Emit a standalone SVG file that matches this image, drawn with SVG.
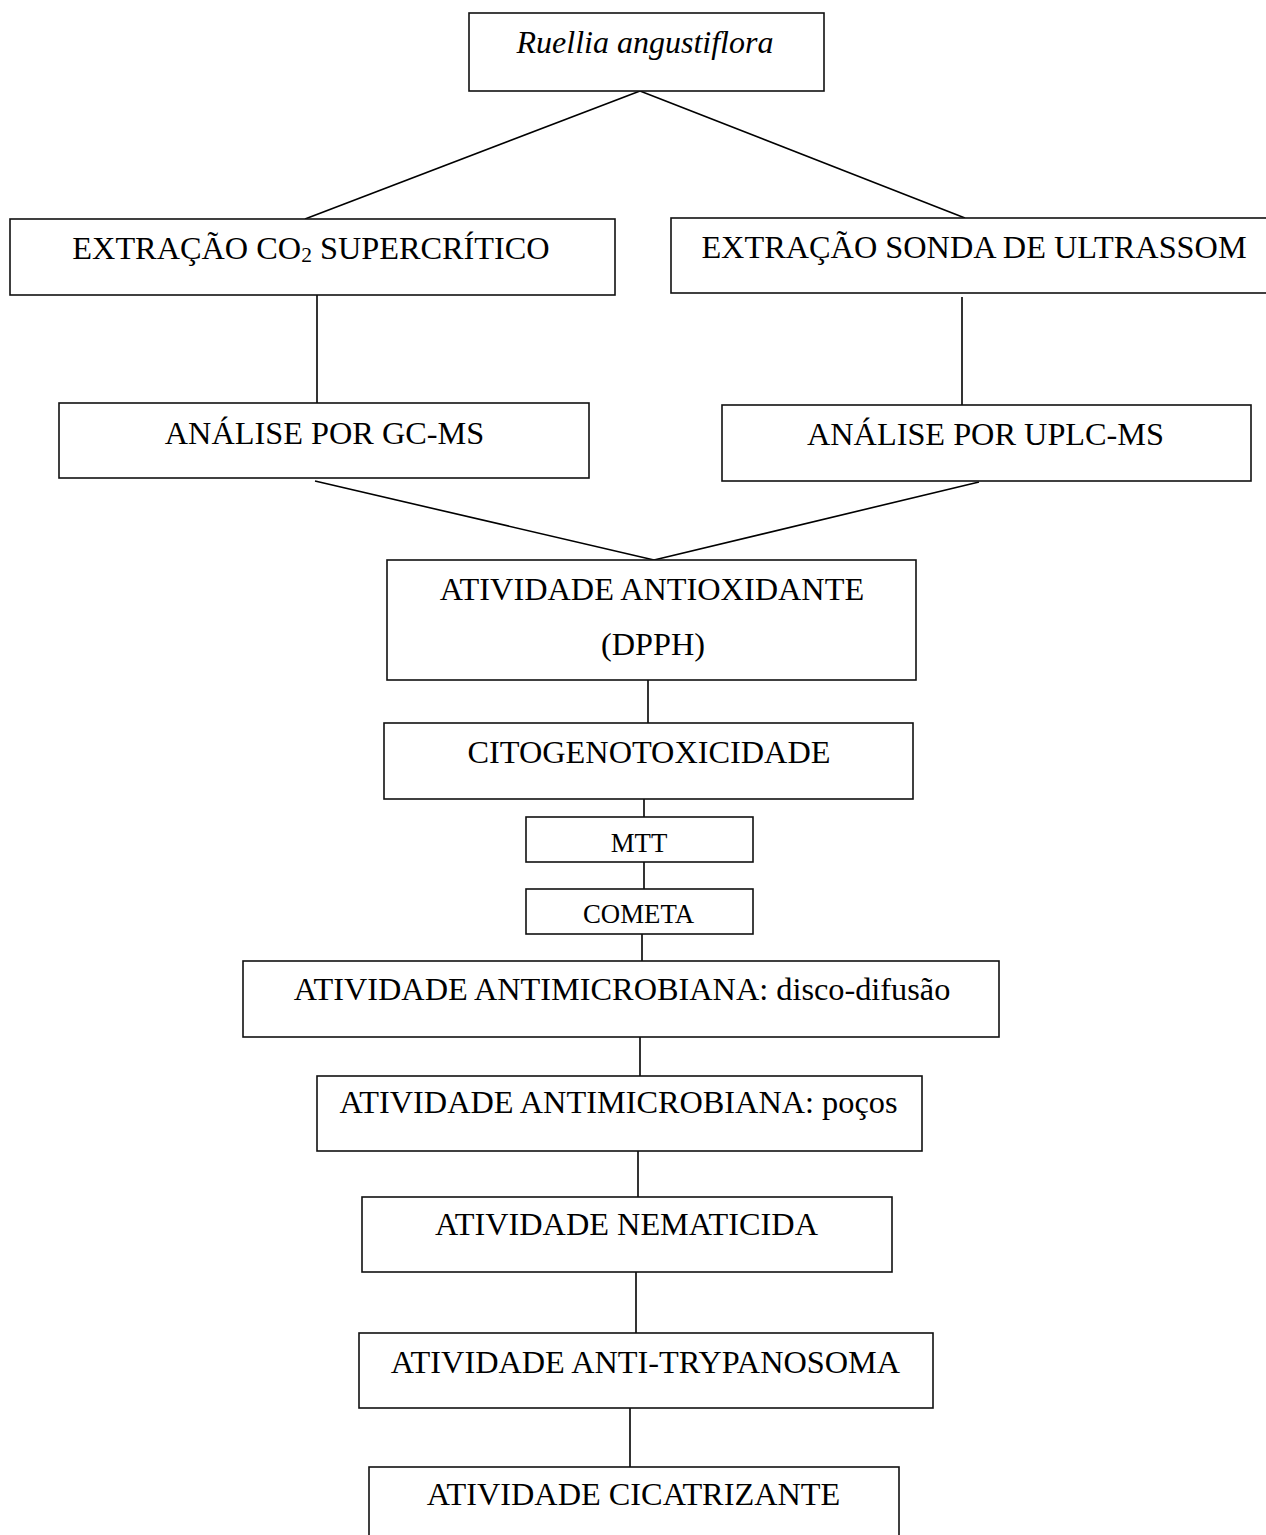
<svg xmlns="http://www.w3.org/2000/svg" width="1266" height="1535" viewBox="0 0 1266 1535">
<style>
.box{fill:#fff;stroke:#111;stroke-width:1.6}
.ln{stroke:#000;stroke-width:1.6;fill:none}
.t{font-family:"Liberation Serif","Times New Roman",serif;font-size:32.3px;fill:#000;text-anchor:middle}
.s{font-size:26.8px}
.i{font-style:italic;font-size:32px}
</style>
<rect width="1266" height="1535" fill="#fff"/>
<g id="connectors">
<line class="ln" x1="640" y1="91" x2="305" y2="219"/>
<line class="ln" x1="640" y1="91" x2="965" y2="218"/>
<line class="ln" x1="317" y1="295" x2="317" y2="403"/>
<line class="ln" x1="962" y1="297" x2="962" y2="405"/>
<line class="ln" x1="315" y1="481" x2="654" y2="560"/>
<line class="ln" x1="979" y1="482" x2="654" y2="560"/>
<line class="ln" x1="648" y1="680" x2="648" y2="723"/>
<line class="ln" x1="644" y1="799" x2="644" y2="817"/>
<line class="ln" x1="644" y1="862" x2="644" y2="889"/>
<line class="ln" x1="642" y1="934" x2="642" y2="961"/>
<line class="ln" x1="640" y1="1037" x2="640" y2="1076"/>
<line class="ln" x1="638" y1="1151" x2="638" y2="1197"/>
<line class="ln" x1="636" y1="1272" x2="636" y2="1333"/>
<line class="ln" x1="630" y1="1408" x2="630" y2="1467"/>
</g>
<g id="ruellia">
<rect class="box" x="469" y="13" width="355" height="78"/>
<text class="t i" x="645" y="53">Ruellia angustiflora</text>
</g>
<g id="extracao-co2">
<rect class="box" x="10" y="219" width="605" height="76"/>
<text class="t" x="311" y="259">EXTRAÇÃO CO<tspan font-size="21.5" dy="3">2</tspan><tspan dy="-3"> SUPERCRÍTICO</tspan></text>
</g>
<g id="extracao-sonda">
<rect class="box" x="671" y="218" width="605" height="75"/>
<text class="t" x="974" y="258">EXTRAÇÃO SONDA DE ULTRASSOM</text>
</g>
<g id="gcms">
<rect class="box" x="59" y="403" width="530" height="75"/>
<text class="t" x="324.5" y="444">ANÁLISE POR GC-MS</text>
</g>
<g id="uplcms">
<rect class="box" x="722" y="405" width="529" height="76"/>
<text class="t" x="985.5" y="445">ANÁLISE POR UPLC-MS</text>
</g>
<g id="antioxidante">
<rect class="box" x="387" y="560" width="529" height="120"/>
<text class="t" x="652" y="600">ATIVIDADE ANTIOXIDANTE</text>
<text class="t" x="653" y="655">(DPPH)</text>
</g>
<g id="citogenotoxicidade">
<rect class="box" x="384" y="723" width="529" height="76"/>
<text class="t" x="649" y="763">CITOGENOTOXICIDADE</text>
</g>
<g id="mtt">
<rect class="box" x="526" y="817" width="227" height="45"/>
<text class="t s" x="639" y="852">MTT</text>
</g>
<g id="cometa">
<rect class="box" x="526" y="889" width="227" height="45"/>
<text class="t s" x="638.5" y="923">COMETA</text>
</g>
<g id="antimicrobiana-disco">
<rect class="box" x="243" y="961" width="756" height="76"/>
<text class="t" x="622" y="1000">ATIVIDADE ANTIMICROBIANA: disco-difusão</text>
</g>
<g id="antimicrobiana-pocos">
<rect class="box" x="317" y="1076" width="605" height="75"/>
<text class="t" x="618.5" y="1113">ATIVIDADE ANTIMICROBIANA: poços</text>
</g>
<g id="nematicida">
<rect class="box" x="362" y="1197" width="530" height="75"/>
<text class="t" x="626.5" y="1235">ATIVIDADE NEMATICIDA</text>
</g>
<g id="anti-trypanosoma">
<rect class="box" x="359" y="1333" width="574" height="75"/>
<text class="t" x="645.5" y="1373">ATIVIDADE ANTI-TRYPANOSOMA</text>
</g>
<g id="cicatrizante">
<rect class="box" x="369" y="1467" width="530" height="80"/>
<text class="t" x="633.5" y="1505">ATIVIDADE CICATRIZANTE</text>
</g>
</svg>
